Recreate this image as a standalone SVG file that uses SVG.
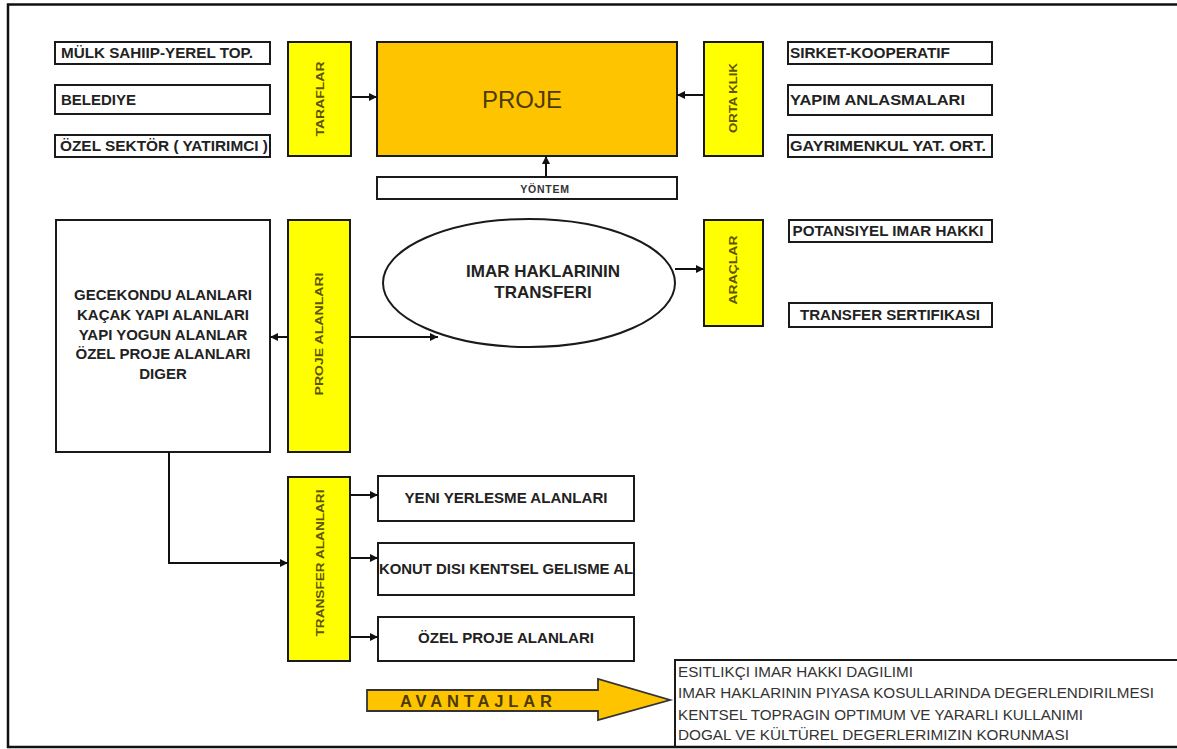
<svg xmlns="http://www.w3.org/2000/svg" width="1177" height="749" viewBox="0 0 1177 749">
<defs>
<marker id="ah" viewBox="0 0 10 10" refX="10" refY="5" markerWidth="9" markerHeight="8" markerUnits="userSpaceOnUse" orient="auto">
<path d="M0,0 L10,5 L0,10 Z" fill="#111"/>
</marker>
<clipPath id="clipKonut"><rect x="378" y="543" width="256" height="52"/></clipPath>
</defs>
<style>
.box{fill:#fff;stroke:#1a1a1a;stroke-width:2}
.yel{fill:#ffff00;stroke:#1a1a1a;stroke-width:2}
.lbl{font-family:"Liberation Sans",Arial,sans-serif;font-weight:bold;font-size:15px;fill:#222}
.vl{font-family:"Liberation Sans",Arial,sans-serif;font-weight:bold;font-size:11.5px;fill:#5e5400}
.ben{font-family:"Liberation Sans",Arial,sans-serif;font-size:14px;fill:#333}
.con{fill:none;stroke:#111;stroke-width:2}
</style>
<rect width="1177" height="749" fill="#fff"/>
<g id="frame" fill="none" stroke="#111" stroke-width="2.5">
<path d="M1177,4.5 L8,4.5 L8,747 L1177,747"/>
</g>

<g id="mulk"><rect class="box" x="55" y="42" width="215" height="22"/><text class="lbl" x="61" y="58" textLength="192" lengthAdjust="spacingAndGlyphs">MÜLK SAHIIP-YEREL TOP.</text></g>
<g id="belediye"><rect class="box" x="55" y="85" width="215" height="29"/><text class="lbl" x="61" y="105">BELEDIYE</text></g>
<g id="ozelsektor"><rect class="box" x="55" y="135" width="215" height="22"/><text class="lbl" x="60" y="151" textLength="208" lengthAdjust="spacingAndGlyphs">ÖZEL SEKTÖR ( YATIRIMCI )</text></g>

<g id="taraflar"><rect class="yel" x="288" y="42" width="63" height="114"/><text class="vl" transform="translate(324,99) rotate(-90)" text-anchor="middle" textLength="75" lengthAdjust="spacingAndGlyphs">TARAFLAR</text></g>

<g id="proje"><rect x="377" y="42" width="300" height="114" fill="#ffc400" stroke="#1a1a1a" stroke-width="2"/><text x="522" y="108" text-anchor="middle" font-family="Liberation Sans,Arial,sans-serif" font-size="24" fill="#4d3a00">PROJE</text></g>

<g id="yontem"><rect class="box" x="377" y="177" width="300" height="22"/><text x="545" y="193" text-anchor="middle" font-family="Liberation Sans,Arial,sans-serif" font-weight="bold" font-size="10.5" fill="#333" letter-spacing="0.8">YÖNTEM</text></g>

<g id="ortaklik"><rect class="yel" x="704" y="42" width="59" height="114"/><text class="vl" transform="translate(737,98) rotate(-90)" text-anchor="middle" textLength="70" lengthAdjust="spacingAndGlyphs">ORTA KLIK</text></g>

<g id="sirket"><rect class="box" x="788" y="42" width="204" height="22"/><text class="lbl" x="790" y="58" textLength="160" lengthAdjust="spacingAndGlyphs">SIRKET-KOOPERATIF</text></g>
<g id="yapim"><rect class="box" x="788" y="85" width="204" height="30"/><text class="lbl" x="790" y="105" textLength="175" lengthAdjust="spacingAndGlyphs">YAPIM ANLASMALARI</text></g>
<g id="gayrimenkul"><rect class="box" x="788" y="135" width="204" height="22"/><text class="lbl" x="790" y="151" textLength="196" lengthAdjust="spacingAndGlyphs">GAYRIMENKUL YAT. ORT.</text></g>

<g id="alanlar"><rect class="box" x="56" y="220" width="214" height="232"/>
<text class="lbl" text-anchor="middle"><tspan x="163" y="300">GECEKONDU ALANLARI</tspan><tspan x="163" y="320">KAÇAK YAPI ALANLARI</tspan><tspan x="163" y="340">YAPI YOGUN ALANLAR</tspan><tspan x="163" y="359">ÖZEL PROJE ALANLARI</tspan><tspan x="163" y="379">DIGER</tspan></text></g>

<g id="projealanlari"><rect class="yel" x="288" y="220" width="62" height="232"/><text class="vl" transform="translate(323,334) rotate(-90)" text-anchor="middle" textLength="123" lengthAdjust="spacingAndGlyphs">PROJE ALANLARI</text></g>

<g id="imar"><ellipse cx="529" cy="283" rx="146" ry="64" fill="#fff" stroke="#1a1a1a" stroke-width="2"/>
<text class="lbl" font-size="17" style="font-size:17px" text-anchor="middle"><tspan x="543" y="277">IMAR HAKLARININ</tspan><tspan x="543" y="298">TRANSFERI</tspan></text></g>

<g id="araclar"><rect class="yel" x="704" y="220" width="59" height="106"/><text class="vl" transform="translate(737,270) rotate(-90)" text-anchor="middle" textLength="69" lengthAdjust="spacingAndGlyphs">ARAÇLAR</text></g>

<g id="potansiyel"><rect class="box" x="789" y="220" width="203" height="22"/><text class="lbl" x="888" y="236" text-anchor="middle" textLength="191" lengthAdjust="spacingAndGlyphs">POTANSIYEL IMAR HAKKI</text></g>
<g id="sertifika"><rect class="box" x="789" y="303" width="203" height="24"/><text class="lbl" x="890" y="320" text-anchor="middle" textLength="180" lengthAdjust="spacingAndGlyphs">TRANSFER SERTIFIKASI</text></g>

<g id="transferalanlari"><rect class="yel" x="288" y="477" width="62" height="184"/><text class="vl" transform="translate(324,563) rotate(-90)" text-anchor="middle" textLength="147" lengthAdjust="spacingAndGlyphs">TRANSFER ALANLARI</text></g>

<g id="yeni"><rect class="box" x="378" y="476" width="256" height="45"/><text class="lbl" x="506" y="503" text-anchor="middle" textLength="203" lengthAdjust="spacingAndGlyphs">YENI YERLESME ALANLARI</text></g>
<g id="konut"><rect class="box" x="378" y="543" width="256" height="52"/><text class="lbl" x="379" y="574" clip-path="url(#clipKonut)" textLength="254" lengthAdjust="spacingAndGlyphs">KONUT DISI KENTSEL GELISME AL</text></g>
<g id="ozelproje"><rect class="box" x="378" y="617" width="256" height="44"/><text class="lbl" x="506" y="643" text-anchor="middle" textLength="176" lengthAdjust="spacingAndGlyphs">ÖZEL PROJE ALANLARI</text></g>

<g id="avantajlar"><path d="M367,690 L598,690 L598,679 L670,700 L598,720 L598,711 L367,711 Z" fill="#ffc400" stroke="#333" stroke-width="1.8"/>
<text x="400" y="707" font-family="Liberation Sans,Arial,sans-serif" font-weight="bold" font-size="16.5" fill="#4d3a00" textLength="152" lengthAdjust="spacing">AVANTAJLAR</text></g>

<g id="faydalar"><path d="M1177,660 L675,660 L675,747" fill="none" stroke="#1a1a1a" stroke-width="2"/>
<text class="ben"><tspan x="678" y="677" textLength="235" lengthAdjust="spacingAndGlyphs">ESITLIKÇI IMAR HAKKI DAGILIMI</tspan><tspan x="678" y="698" textLength="476" lengthAdjust="spacingAndGlyphs">IMAR HAKLARININ PIYASA KOSULLARINDA DEGERLENDIRILMESI</tspan><tspan x="678" y="720" textLength="405" lengthAdjust="spacingAndGlyphs">KENTSEL TOPRAGIN OPTIMUM VE YARARLI KULLANIMI</tspan><tspan x="678" y="740" textLength="391" lengthAdjust="spacingAndGlyphs">DOGAL VE KÜLTÜREL DEGERLERIMIZIN KORUNMASI</tspan></text></g>

<g id="connectors">
<path class="con" d="M351,97 L377,97" marker-end="url(#ah)"/>
<path class="con" d="M704,95 L677,95" marker-end="url(#ah)"/>
<path class="con" d="M546,177 L546,156" marker-end="url(#ah)"/>
<path class="con" d="M288,337 L270,337" marker-end="url(#ah)"/>
<path class="con" d="M350,337 L438,337" marker-end="url(#ah)"/>
<path class="con" d="M675,269 L704,269" marker-end="url(#ah)"/>
<path class="con" d="M169,452 L169,563 L288,563" marker-end="url(#ah)"/>
<path class="con" d="M350,495 L378,495" marker-end="url(#ah)"/>
<path class="con" d="M350,558 L378,558" marker-end="url(#ah)"/>
<path class="con" d="M350,637 L378,637" marker-end="url(#ah)"/>
</g>
</svg>
